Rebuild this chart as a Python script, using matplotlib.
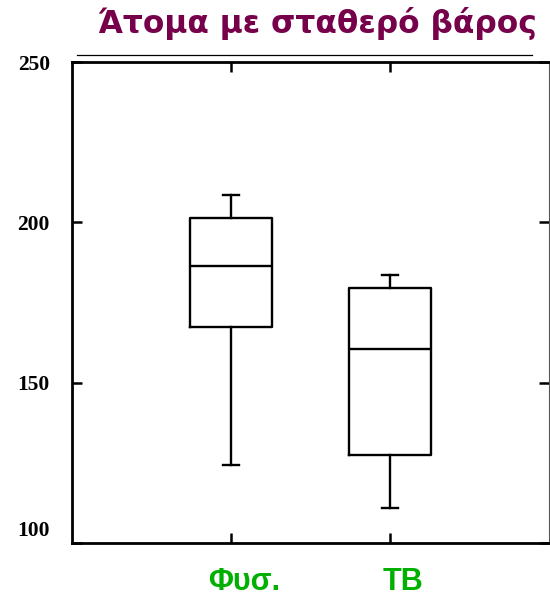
import matplotlib
matplotlib.use("Agg")
import matplotlib.pyplot as plt
import matplotlib.transforms as mtransforms
from matplotlib.lines import Line2D

# Data
categories = ["Φυσ.", "TB"]
whisker_low = [124.3, 110.8]
q1 = [167.4, 127.4]
median = [186.4, 160.4]
q3 = [201.3, 179.6]
whisker_high = [208.5, 183.6]
y_ticks = [100, 150, 200, 250]

title_color = "#76004a"
label_color = "#00b000"

fig = plt.figure(figsize=(5.5, 6.01), dpi=100)
ax = fig.add_axes([72/550, (601-543)/601, (549-72)/550, (543-62)/601])

stats = []
for i, c in enumerate(categories):
    stats.append(dict(label=c, whislo=whisker_low[i], q1=q1[i], med=median[i],
                      q3=q3[i], whishi=whisker_high[i], fliers=[]))

lw = 1.7
ax.bxp(stats, positions=[1, 2], widths=0.51, showfliers=False,
       boxprops=dict(color="black", linewidth=lw),
       whiskerprops=dict(color="black", linewidth=lw),
       capprops=dict(color="black", linewidth=lw),
       medianprops=dict(color="black", linewidth=lw),
       capwidths=0.1)

ax.set_xlim(0, 3.0)
ax.set_ylim(100, 250)
ax.set_yticks(y_ticks)
ax.set_yticklabels([str(v) for v in y_ticks],
                   fontfamily="Liberation Serif", fontweight="bold", fontsize=15.5)
ax.set_xticks([1, 2])
ax.set_xticklabels(categories, fontfamily="Liberation Sans", fontweight="bold",
                   fontsize=22, color=label_color)

ax.tick_params(axis="y", direction="in", length=7, width=1.8, pad=16,
               right=True, left=True)
ax.tick_params(axis="x", direction="in", length=7, width=1.8, pad=17,
               top=True, bottom=True)

for s in ["left", "bottom", "top"]:
    ax.spines[s].set_linewidth(2.0)
    ax.spines[s].set_color("black")
ax.spines["right"].set_linewidth(0.8)
ax.spines["right"].set_color("#555555")

# shift the "100" label up slightly as in the reference
lbl = ax.get_yticklabels()[0]
lbl.set_transform(lbl.get_transform() + mtransforms.ScaledTranslation(0, 15/100, fig.dpi_scale_trans))

# x labels sit slightly right of their ticks in the reference
for xl in ax.get_xticklabels():
    xl.set_transform(xl.get_transform() + mtransforms.ScaledTranslation(13/100, 0, fig.dpi_scale_trans))

fig.text(317/550, 1 - 23/601, "Άτομα με σταθερό βάρος", ha="center", va="center",
         fontfamily="DejaVu Sans", fontweight="bold", fontsize=22.5, color=title_color)

fig.add_artist(Line2D([77/550, 532/550], [1 - 55/601, 1 - 55/601],
                      transform=fig.transFigure, color="black", linewidth=0.9))

fig.savefig("out.png", dpi=100)
